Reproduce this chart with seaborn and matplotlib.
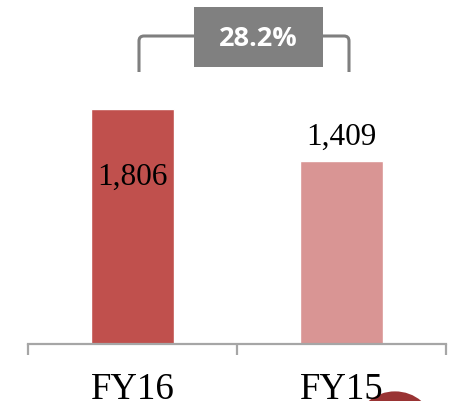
import matplotlib
matplotlib.use("Agg")
import matplotlib.pyplot as plt
import seaborn as sns
import pandas as pd
from matplotlib.patches import Rectangle, Circle
from matplotlib.path import Path
from matplotlib.patches import PathPatch

# Revenue by fiscal year
categories = ["FY16", "FY15"]
values = [1806, 1409]
value_labels = ["1,806", "1,409"]
growth_label = "28.2%"
bar_colors = ["#C0504D", "#D99594"]

sns.set_theme(style="white")
plt.rcParams["font.family"] = ["Liberation Serif", "DejaVu Serif"]

W, H, DPI = 456, 402, 100
fig = plt.figure(figsize=(W / DPI, H / DPI), dpi=DPI)
ax = fig.add_axes([28 / W, (H - 345) / H, 418 / W, 345 / H])

df = pd.DataFrame({"year": categories, "value": values})
sns.barplot(data=df, x="year", y="value", hue="year", palette=bar_colors,
            width=0.40, legend=False, ax=ax, saturation=1)

ax.set_xlim(-0.5, 1.5)
ax.set_ylim(0, 2651)
ax.set_xlabel("")
ax.set_ylabel("")
ax.set_yticks([])
for s in ["left", "top", "right"]:
    ax.spines[s].set_visible(False)
ax.spines["bottom"].set_color("#A6A6A6")
ax.spines["bottom"].set_linewidth(1.6)

# category labels, boundary tick marks
ax.tick_params(axis="x", which="major", bottom=True, length=0, pad=19.5,
               labelsize=26.5, colors="black")
ax.set_xticks([-0.5, 0.5, 1.5], minor=True)
ax.tick_params(axis="x", which="minor", bottom=True, length=8, width=1.6,
               color="#A6A6A6", direction="out")

# value labels: inside the first bar, above the second
offsets = [-54, 12]
for i, (v, lab) in enumerate(zip(values, value_labels)):
    ax.annotate(lab, xy=(i, v), xytext=(0, offsets[i]), textcoords="offset points",
                ha="center", va="baseline", fontsize=22.5, color="black")

# growth bracket between the two bars (figure pixel coordinates)
def px(x, y):
    return (x / W, (H - y) / H)

r = 5
verts = [px(139, 73), px(139, 37 + r), px(139, 37), px(139 + r, 37),
         px(349 - r, 37), px(349, 37), px(349, 37 + r), px(349, 73)]
codes = [Path.MOVETO, Path.LINETO, Path.CURVE3, Path.CURVE3,
         Path.LINETO, Path.CURVE3, Path.CURVE3, Path.LINETO]
fig.add_artist(PathPatch(Path(verts, codes), fill=False, edgecolor="#7F7F7F",
                         linewidth=2.2, transform=fig.transFigure))

bx0, by0 = px(194, 68)
fig.add_artist(Rectangle((bx0, by0), (323 - 194) / W, 60 / H,
                         facecolor="#808080", edgecolor="none",
                         transform=fig.transFigure))
fig.text(258.5 / W, (H - 39) / H, growth_label, ha="center", va="center",
         color="white", fontsize=19.5, fontweight="bold",
         family=["Open Sans", "DejaVu Sans"])

# decorative disc at the lower right
fig.add_artist(Circle(px(395, 425), 37 / W, facecolor="#993333",
                      edgecolor="none", transform=fig.transFigure, zorder=0))

fig.savefig("out.png", dpi=DPI)
